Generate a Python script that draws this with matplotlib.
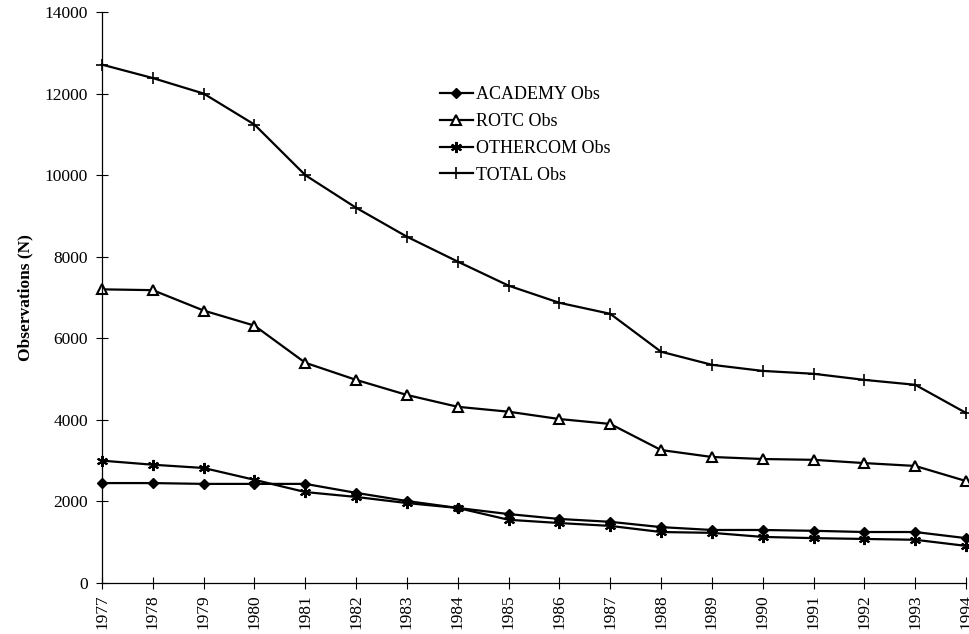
import matplotlib
matplotlib.use("Agg")
import matplotlib.pyplot as plt

years = list(range(1977, 1995))
academy = [2450, 2450, 2430, 2430, 2430, 2210, 2010, 1840, 1690, 1570, 1500, 1370, 1300, 1300, 1280, 1250, 1250, 1100]
rotc = [7200, 7180, 6680, 6310, 5400, 4980, 4610, 4320, 4200, 4020, 3900, 3260, 3090, 3040, 3020, 2940, 2870, 2500]
othercom = [3000, 2900, 2820, 2530, 2230, 2110, 1960, 1840, 1550, 1470, 1400, 1250, 1230, 1130, 1100, 1080, 1060, 910]
total = [12710, 12380, 12000, 11240, 10000, 9200, 8490, 7880, 7290, 6870, 6600, 5670, 5350, 5200, 5130, 4980, 4860, 4170]
yticks = [0, 2000, 4000, 6000, 8000, 10000, 12000, 14000]

plt.rcParams['font.family'] = ['Liberation Serif', 'DejaVu Serif']

fig = plt.figure(figsize=(9.69, 6.34), dpi=100)
ax = fig.add_axes([102/969, 51/634, 864/969, 571/634])

lw = 1.6
ax.plot(years, academy, color='black', lw=lw, marker='D', ms=5, mfc='black', mec='black', label='ACADEMY Obs', clip_on=False)
ax.plot(years, rotc, color='black', lw=lw, marker='^', ms=7, mfc='white', mec='black', mew=1.5, label='ROTC Obs', clip_on=False)
ax.plot(years, othercom, color='black', lw=lw, marker=(6, 2, 0), ms=8, mec='black', mew=1.5, label='OTHERCOM Obs', clip_on=False)
ax.plot(years, total, color='black', lw=lw, marker='+', ms=8, mec='black', mew=1.2, label='TOTAL Obs', clip_on=False)

ax.set_xlim(years[0], years[-1])
ax.set_ylim(0, 14000)
ax.set_xticks(years)
ax.set_xticklabels([str(y) for y in years], rotation=90, fontsize=12.5)
ax.set_yticks(yticks)
ax.set_yticklabels([str(v) for v in yticks], fontsize=12.5)
ax.tick_params(axis='both', direction='inout', length=8, width=0.8, colors='black')
ax.tick_params(axis='y', pad=6)
ax.tick_params(axis='x', pad=4)

for s in ['top', 'right']:
    ax.spines[s].set_visible(False)
for s in ['left', 'bottom']:
    ax.spines[s].set_linewidth(0.9)

ax.set_ylabel('Observations (N)', fontsize=12.5, fontweight='bold', labelpad=8)

leg = fig.legend(loc='upper left', bbox_to_anchor=(440/969, 1 - 86/634), frameon=False,
                 fontsize=13, handlelength=1.8, handletextpad=0.2, labelspacing=0.55,
                 borderpad=0, borderaxespad=0)

fig.savefig('out.png', dpi=100)
